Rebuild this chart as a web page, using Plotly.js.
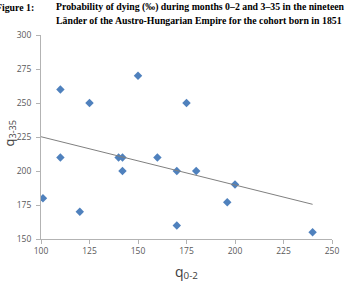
<!DOCTYPE html>
<html><head><meta charset="utf-8">
<script src="https://cdn.plot.ly/plotly-3.0.1.min.js"></script>
<style>html,body{margin:0;padding:0;background:#fff}#c{width:345px;height:286px}</style>
</head><body><div id="c"></div>
<script>
var q02 = [101, 110, 110, 120, 125, 140, 142, 142, 150, 160, 170, 170, 175, 180, 196, 200, 240];
var q335 = [180, 260, 210, 170, 250, 210, 210, 200, 270, 210, 200, 160, 250, 200, 177, 190, 155];
var trendX = [100, 240];
var trendY = [225.2, 175.5];
var xTicks = [100, 125, 150, 175, 200, 225, 250];
var yTicks = [150, 175, 200, 225, 250, 275, 300];

var L = 41, R = 332, T = 35, B = 239;
function px(x){return (x - L)/(R - L);}
function py(y){return (B - y)/(B - T);}

var data = [
  {x: q02, y: q335, type: 'scatter', mode: 'markers',
   marker: {symbol: 'diamond', size: 6.5, color: '#4F81BD'}, hoverinfo: 'none'},
  {x: trendX, y: trendY, type: 'scatter', mode: 'lines',
   line: {color: '#808080', width: 1}, hoverinfo: 'none'}
];
var tf = {family: 'Liberation Serif', size: 9.8, color: '#000'};
var layout = {
  width: 345, height: 286,
  margin: {l: L, r: 345 - R, t: T, b: 286 - B, pad: 0},
  paper_bgcolor: '#fff', plot_bgcolor: '#fff',
  showlegend: false,
  xaxis: {range: [100, 250], tickvals: xTicks, showgrid: false, zeroline: false,
    showline: true, linecolor: '#b3b3b3', linewidth: 1, ticks: 'outside', ticklen: 4, tickcolor: '#b3b3b3',
    tickfont: {family: 'Open Sans', size: 8.5, color: '#595959'},
    title: {text: 'q<sub>0-2</sub>', font: {family: 'Open Sans', size: 14, color: '#404040'}, standoff: 11}},
  yaxis: {range: [150, 300], tickvals: yTicks, showgrid: false, zeroline: false,
    showline: true, linecolor: '#b3b3b3', linewidth: 1, ticks: 'outside', ticklen: 4, tickcolor: '#b3b3b3',
    ticklabelstandoff: 3,
    tickfont: {family: 'Open Sans', size: 8.5, color: '#595959'}},
  annotations: [
    {xref: 'paper', yref: 'paper', x: px(9.5), y: py(133), xanchor: 'center', yanchor: 'middle',
     textangle: -90, showarrow: false, text: 'q<sub>3-35</sub>',
     font: {family: 'Open Sans', size: 13, color: '#404040'}},
    {xref: 'paper', yref: 'paper', x: px(36), y: py(7), xanchor: 'right', yanchor: 'middle',
     showarrow: false, text: '<b>Figure 1:</b>', font: tf},
    {xref: 'paper', yref: 'paper', x: px(54), y: py(7), xanchor: 'left', yanchor: 'middle',
     showarrow: false, text: '<b>Probability of dying (‰) during months 0–2 and 3–35 in the nineteen</b>', font: tf},
    {xref: 'paper', yref: 'paper', x: px(54), y: py(20), xanchor: 'left', yanchor: 'middle',
     showarrow: false, text: '<b>Länder of the Austro-Hungarian Empire for the cohort born in 1851</b>', font: tf}
  ]
};
Plotly.newPlot('c', data, layout, {staticPlot: true, displayModeBar: false});
</script></body></html>
